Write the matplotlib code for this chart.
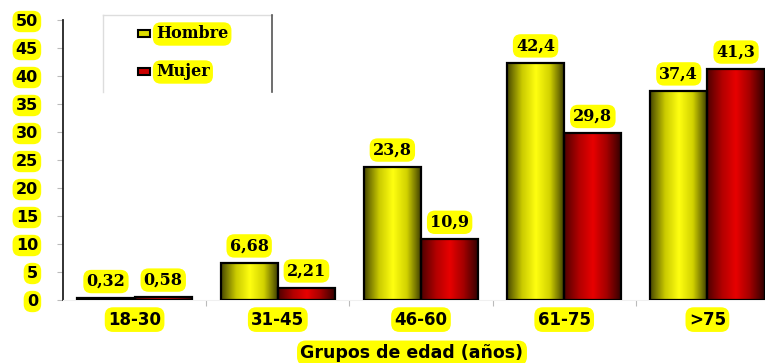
import numpy as np
import matplotlib.pyplot as plt
from matplotlib.colors import LinearSegmentedColormap

grupos = ['18-30', '31-45', '46-60', '61-75', '>75']
hombre = [0.32, 6.68, 23.8, 42.4, 37.4]
mujer = [0.58, 2.21, 10.9, 29.8, 41.3]
etiq_h = ['0,32', '6,68', '23,8', '42,4', '37,4']
etiq_m = ['0,58', '2,21', '10,9', '29,8', '41,3']

plt.rcParams['font.weight'] = 'bold'

fig = plt.figure(figsize=(7.65, 3.63), dpi=100)
# axes runs a bit past the right edge, like the original crop
ax = fig.add_axes([63/765, 1 - 300/363, 716/765, 280/363])

cm_h = LinearSegmentedColormap.from_list('h', ['#4a4a00', '#c8c800', '#ffff10', '#d0d000', '#3a3a00'])
cm_m = LinearSegmentedColormap.from_list('m', ['#500000', '#b00000', '#e80000', '#a00000', '#300000'])
grad = np.linspace(0, 1, 64).reshape(1, -1)

x = np.arange(len(grupos))
w = 0.4
bh = ax.bar(x - w/2, hombre, w, facecolor='none', edgecolor='black', linewidth=1.6, zorder=3)
bm = ax.bar(x + w/2, mujer, w, facecolor='none', edgecolor='black', linewidth=1.6, zorder=3)

for bars, cmap in ((bh, cm_h), (bm, cm_m)):
    for b in bars:
        x0, y0 = b.get_x(), b.get_y()
        im = ax.imshow(grad, cmap=cmap, aspect='auto', zorder=2,
                       extent=[x0, x0 + b.get_width(), y0, y0 + b.get_height()])
        im.set_clip_path(b)

box = dict(boxstyle='round,pad=0.2,rounding_size=0.5', fc='#ffff00', ec='none')
for bars, labs in ((bh, etiq_h), (bm, etiq_m)):
    for b, t in zip(bars, labs):
        ax.annotate(t, (b.get_x() + b.get_width()/2, b.get_height()),
                    xytext=(0, 12), textcoords='offset points', ha='center', va='center',
                    family='DejaVu Serif', fontweight='bold', fontsize=11.5, bbox=box)

ax.set_xlim(-0.5, 4.5)
ax.set_ylim(0, 50)
ax.set_yticks(range(0, 51, 5))
ax.set_xticks(np.arange(0.5, 4.5, 1))
ax.set_xticklabels([])
ax.tick_params(axis='x', length=4, color='#bbbbbb', direction='out')
ax.tick_params(axis='y', length=4, color='#bbbbbb', pad=14, labelsize=11.5,
               labelfontfamily='DejaVu Sans')
for t in ax.get_yticklabels():
    t.set_bbox(box)
for i, g in enumerate(grupos):
    ax.text(i, -3.5, g, ha='center', va='center', family='DejaVu Sans',
            fontweight='bold', fontsize=12, bbox=box)

for s in ('top', 'right'):
    ax.spines[s].set_visible(False)
ax.spines['bottom'].set_color('#f0f0f0')
ax.spines['left'].set_color('#222222')
ax.spines['left'].set_linewidth(1.3)

fig.text(412/765, 1 - 353/363, 'Grupos de edad (años)', ha='center', va='center',
         family='DejaVu Sans', fontweight='bold', fontsize=12.5, bbox=box)

# legend box
lx0, lx1, ly0, ly1 = 103/765, 272/765, 1 - 92/363, 1 - 15/363
fig.add_artist(plt.Line2D([lx0, lx1], [ly1, ly1], color='#dddddd', lw=1))
fig.add_artist(plt.Line2D([lx0, lx0], [ly0, ly1], color='#dddddd', lw=1))
fig.add_artist(plt.Line2D([lx1, lx1], [ly0, ly1], color='#555555', lw=1.2))
for yy, col, name in ((34, '#dddd00', 'Hombre'), (72, '#cc0000', 'Mujer')):
    fig.add_artist(plt.Rectangle((138/765, 1 - (yy + 3)/363), 12/765, 7/363,
                                 facecolor=col, edgecolor='black', lw=1.5))
    fig.text(156/765, 1 - yy/363, name, ha='left', va='center', family='DejaVu Serif',
             fontweight='bold', fontsize=11.5, bbox=box)

fig.savefig('out.png', dpi=100)
